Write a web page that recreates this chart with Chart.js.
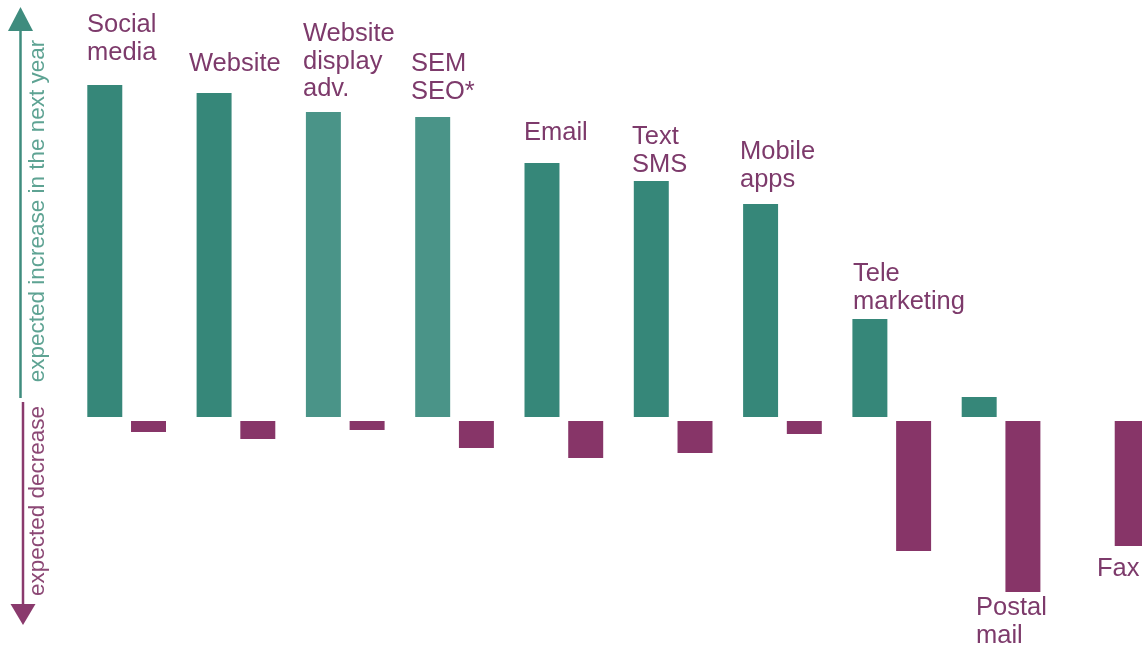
<!DOCTYPE html>
<html>
<head>
<meta charset="utf-8">
<script src="https://cdn.jsdelivr.net/npm/chart.js@4/dist/chart.umd.min.js"></script>
<style>
  html, body { margin: 0; padding: 0; background: #ffffff; overflow: hidden; }
  #wrap { width: 1180px; height: 648px; }
</style>
</head>
<body>
<div id="wrap"><canvas id="c" width="1180" height="648"></canvas></div>
<script>
// Marketing channels and the expected change in their use over the next year
const categories = ['Social media', 'Website', 'Website display adv.', 'SEM SEO*', 'Email',
                    'Text SMS', 'Mobile apps', 'Tele marketing', 'Postal mail', 'Fax'];
const increase = [83, 81, 76.25, 75, 63.5, 59, 53.25, 24.5, 5, null];
const decrease = [2.75, 4.5, 2.25, 6.75, 9.25, 8, 3.25, 32.5, 42.75, 31.25];

// Label lines shown next to each channel
const labelLines = [
  ['Social', 'media'], ['Website'], ['Website', 'display', 'adv.'], ['SEM', 'SEO*'], ['Email'],
  ['Text', 'SMS'], ['Mobile', 'apps'], ['Tele', 'marketing'], ['Postal', 'mail'], ['Fax']
];

const TEAL = '#368779';
const TEAL_LIGHT = '#4a9488';
const PURPLE = '#873568';
const LABEL = '#7d3a6b';
const GAP = 1; // small space between the zero line and the decrease bars

const increaseColors = categories.map((c, i) => (i === 2 || i === 3) ? TEAL_LIGHT : TEAL);
const decreaseBars = decrease.map(v => [-GAP, -GAP - v]);

// Placement of the channel names: [x, first baseline]
const labelPos = [
  [87, 32], [189, 71], [303, 41], [411, 71], [524, 140],
  [632, 144], [740, 159], [853, 281], [976, 615], [1097, 576]
];

const decorations = {
  id: 'decorations',
  afterDraw(chart) {
    const ctx = chart.ctx;
    ctx.save();

    // up arrow: expected increase
    ctx.strokeStyle = '#3f8c7e';
    ctx.fillStyle = '#3f8c7e';
    ctx.lineWidth = 2.5;
    ctx.beginPath();
    ctx.moveTo(20.5, 398);
    ctx.lineTo(20.5, 28);
    ctx.stroke();
    ctx.beginPath();
    ctx.moveTo(20.5, 7);
    ctx.lineTo(33, 31);
    ctx.lineTo(8, 31);
    ctx.closePath();
    ctx.fill();

    // down arrow: expected decrease
    ctx.strokeStyle = '#8a3a6d';
    ctx.fillStyle = '#8a3a6d';
    ctx.beginPath();
    ctx.moveTo(23, 402);
    ctx.lineTo(23, 606);
    ctx.stroke();
    ctx.beginPath();
    ctx.moveTo(23, 625);
    ctx.lineTo(35.5, 604);
    ctx.lineTo(10.5, 604);
    ctx.closePath();
    ctx.fill();

    // rotated axis captions
    ctx.font = '22.5px "Liberation Sans", Arial, sans-serif';
    ctx.textBaseline = 'middle';
    ctx.save();
    ctx.translate(38, 211);
    ctx.rotate(-Math.PI / 2);
    ctx.textAlign = 'center';
    ctx.fillStyle = '#5ea393';
    ctx.fillText('expected increase in the next year', 0, 0);
    ctx.restore();
    ctx.save();
    ctx.translate(38, 501);
    ctx.rotate(-Math.PI / 2);
    ctx.textAlign = 'center';
    ctx.fillStyle = '#8c4875';
    ctx.fillText('expected decrease', 0, 0);
    ctx.restore();

    // channel names
    ctx.font = '25.5px "Liberation Sans", Arial, sans-serif';
    ctx.textAlign = 'left';
    ctx.textBaseline = 'alphabetic';
    ctx.fillStyle = LABEL;
    labelLines.forEach((lines, i) => {
      const [x, y] = labelPos[i];
      lines.forEach((t, k) => ctx.fillText(t, x, y + k * 27.5));
    });

    ctx.restore();
  }
};

new Chart(document.getElementById('c'), {
  type: 'bar',
  data: {
    labels: categories,
    datasets: [
      { label: 'expected increase', data: increase, backgroundColor: increaseColors, borderWidth: 0 },
      { label: 'expected decrease', data: decreaseBars, backgroundColor: PURPLE, borderWidth: 0 }
    ]
  },
  options: {
    responsive: false,
    animation: false,
    datasets: { bar: { barPercentage: 0.8, categoryPercentage: 0.8 } },
    layout: { padding: { left: 72, right: 15, top: 0, bottom: 0 } },
    plugins: { legend: { display: false }, tooltip: { enabled: false } },
    scales: {
      x: { display: false, grid: { display: false } },
      y: { display: false, min: -57.75, max: 104.25, grid: { display: false } }
    }
  },
  plugins: [decorations]
});
</script>
</body>
</html>
